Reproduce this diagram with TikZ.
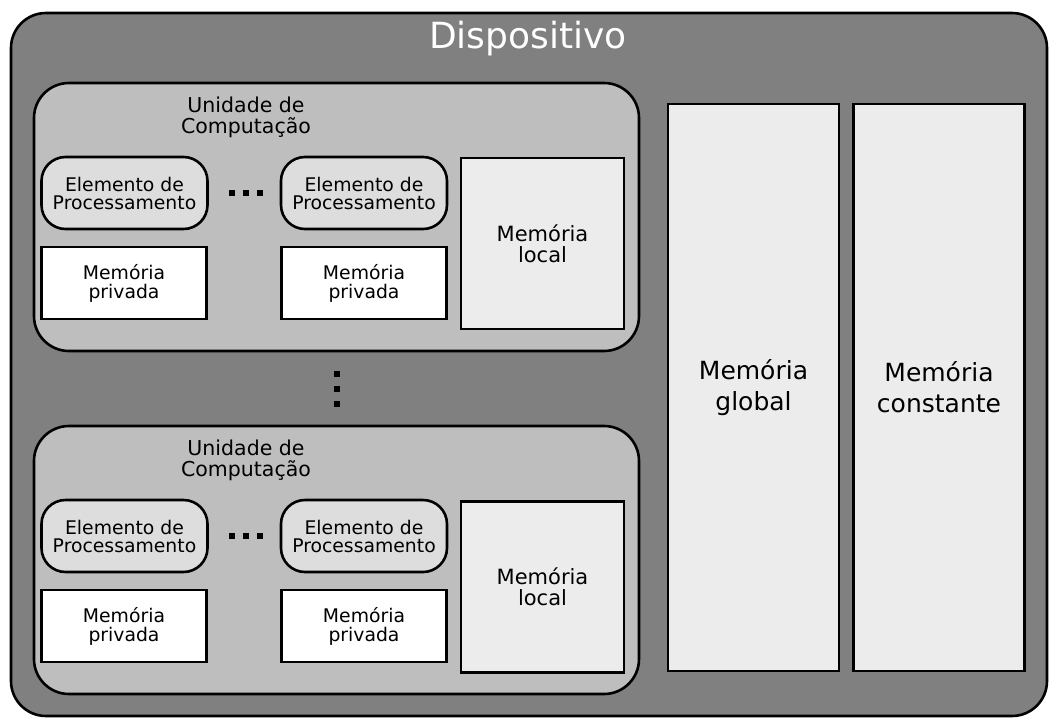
\documentclass[tikz,border=0pt]{standalone}
\usepackage{fontspec}
\setmainfont{DejaVu Sans}
\definecolor{devgray}{RGB}{128,128,128}
\definecolor{unitgray}{RGB}{190,190,190}
\definecolor{pegray}{RGB}{221,221,221}
\definecolor{memgray}{RGB}{236,236,236}
\tikzset{
    box/.style={draw=black, line width=2.6pt, inner sep=0pt, align=center},
    device/.style={box, fill=devgray, rounded corners=35pt,
        minimum width=1036pt, minimum height=703pt},
    unit/.style={box, fill=unitgray, rounded corners=35pt,
        minimum width=605pt, minimum height=268pt},
    pe/.style={box, fill=pegray, rounded corners=24pt,
        minimum width=166pt, minimum height=72pt,
        font=\fontsize{18.8}{18}\selectfont},
    privmem/.style={box, fill=white, minimum width=165pt, minimum height=72pt,
        font=\fontsize{18.8}{19}\selectfont},
    localmem/.style={box, fill=memgray, minimum width=163pt, minimum height=171pt,
        font=\fontsize{21}{21}\selectfont},
    bigmem/.style={box, fill=memgray, minimum width=171pt, minimum height=567pt,
        font=\fontsize{25}{31}\selectfont},
    unitname/.style={align=center, inner sep=0pt, font=\fontsize{20.5}{21}\selectfont},
    dot/.style={fill=black, minimum size=6pt, inner sep=0pt},
}
\begin{document}
\begin{tikzpicture}[x=1pt, y=-1pt]
\useasboundingbox (0,0) rectangle (1058,726);
% dispositivo
\node[device] (dev) at (529,364.5) {};
\node[text=white, inner sep=0pt, font=\fontsize{36}{36}\selectfont, anchor=base]
    (devname) at (528,48) {Dispositivo};

% primeira unidade de computacao
\node[unit] (cu1) at (336.5,217) {};
\node[unitname] (cu1name) at (246,117) {Unidade de\\Computação};
\node[pe] (pe11) at (124.5,193) {Elemento de\\Processamento};
\node[pe] (pe12) at (364,193) {Elemento de\\Processamento};
\node[privmem] (mp11) at (124,283) {Memória\\privada};
\node[privmem] (mp12) at (364,283) {Memória\\privada};
\node[localmem] (ml1) at (542.5,243.5) {Memória\\local};
\foreach \x in {231.5,245.5,259.5}
    \node[dot] at (\x,193) {};

% reticencias entre as unidades
\foreach \y in {373.5,388.5,403.5}
    \node[dot] at (337,\y) {};

% segunda unidade de computacao
\node[unit] (cu2) at (336.5,560) {};
\node[unitname] (cu2name) at (246,460) {Unidade de\\Computação};
\node[pe] (pe21) at (124.5,536) {Elemento de\\Processamento};
\node[pe] (pe22) at (364,536) {Elemento de\\Processamento};
\node[privmem] (mp21) at (124,626) {Memória\\privada};
\node[privmem] (mp22) at (364,626) {Memória\\privada};
\node[localmem] (ml2) at (542.5,587) {Memória\\local};
\foreach \x in {231.5,245.5,259.5}
    \node[dot] at (\x,536) {};

% memorias do dispositivo
\node[bigmem] (mg) at (753.5,387.5) {Memória\\global};
\node[bigmem] (mc) at (939,387.5) {\raisebox{-4pt}{\parbox{171pt}{\centering Memória\\constante}}};
\end{tikzpicture}
\end{document}
